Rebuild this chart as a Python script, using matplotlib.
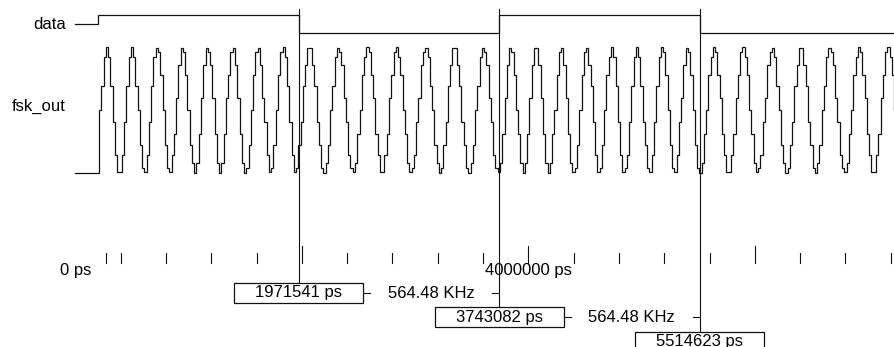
import matplotlib.pyplot as plt
from matplotlib.patches import Rectangle
import numpy as np

# all times in ps
CLK_PERIOD = 20000
CLK_OFFSET = 10000
END_TIME = 7300000

# data input: change times and levels (None = undriven / Z)
data_times = [0, 200000, 1971541, 3743082, 5514623]
data_levels = [None, 1, 0, 1, 0]

# 32-entry sine ROM, 8-bit unsigned
sine_rom = [128, 152, 176, 198, 218, 234, 245, 253, 255, 253, 245, 234, 218, 198, 176, 152,
            128, 103, 79, 57, 37, 21, 10, 2, 0, 2, 10, 21, 37, 57, 79, 103]
# phase increment (8-bit accumulator) for data = 0 / 1
freq_word = {0: 20, 1: 23}

# cursors and the frequency read between neighbouring cursors
cursor_times = [1971541, 3743082, 5514623]
cursor_freqs = ['564.48 KHz', '564.48 KHz']

# time ruler
minor_ticks = [271000, 400000, 800000, 1200000, 1600000, 2400000, 2800000, 3200000,
               3600000, 4400000, 4800000, 5200000, 5600000, 6400000, 6800000, 7200000]
major_ticks = [2000000, 4000000, 6000000]
ruler_labels = [(0, '0 ps'), (4000000, '4000000 ps')]

# screen layout (pixel rows / columns)
PS_PER_PX = 8830.0
ORIGIN_PX = 75.3
W, H = 895, 347
DATA_HI, DATA_Z, DATA_LO = 15, 24, 33
FSK_TOP, FSK_BOT = 47, 173


def px(x):
    return (x - ORIGIN_PX) * PS_PER_PX


def data_at(t):
    i = np.searchsorted(data_times, t, side='right') - 1
    return data_levels[i]


# run the phase accumulator on every clock edge once data is driven
acc = 0
fsk_t, fsk_v = [0], [0]
for t in np.arange(CLK_OFFSET, END_TIME, CLK_PERIOD):
    bit = data_at(t)
    if bit is None:
        continue
    fsk_t.append(t)
    fsk_v.append(sine_rom[acc >> 3])
    acc = (acc + freq_word[bit]) % 256
fsk_t.append(END_TIME)
fsk_v.append(fsk_v[-1])
fsk_y = FSK_BOT - np.array(fsk_v) / 255.0 * (FSK_BOT - FSK_TOP)

data_y = [DATA_Z if v is None else (DATA_HI if v else DATA_LO) for v in data_levels]
data_t = data_times + [END_TIME]
data_y = data_y + [data_y[-1]]

plt.rcParams['font.family'] = ['Liberation Sans', 'DejaVu Sans']
fig = plt.figure(figsize=(W / 100, H / 100), dpi=100)
ax = fig.add_axes([0, 0, 1, 1])
ax.set_xlim(px(0), px(W))
ax.set_ylim(H, 0)
ax.axis('off')

sig = dict(color='#111111', lw=0.9, solid_joinstyle='miter')
ax.step(data_t, data_y, where='post', **sig)
ax.step(fsk_t, fsk_y, where='post', **sig)

ax.text(px(66), DATA_Z, 'data', ha='right', va='center', fontsize=12)
ax.text(px(66), 106, 'fsk_out', ha='right', va='center', fontsize=12)

# ruler
for t in minor_ticks:
    ax.plot([t, t], [253, 263], color='#111111', lw=0.8)
for t in major_ticks:
    ax.plot([t, t], [246, 263], color='#111111', lw=0.8)
for t, s in ruler_labels:
    ax.text(t, 271, s, ha='center', va='center', fontsize=12)

# cursors with time boxes
box_w = 129 * PS_PER_PX
for i, t in enumerate(cursor_times):
    yc = 293 + 24.3 * i
    ax.plot([t, t], [9, yc - 10], color='#111111', lw=0.8, zorder=3)
    ax.add_patch(Rectangle((t - box_w / 2, yc - 10), box_w, 20, facecolor='white',
                           edgecolor='#111111', lw=0.9, zorder=4))
    ax.text(t, yc, f'{t} ps', ha='center', va='center', fontsize=12, zorder=5)

# frequency between cursor pairs
stub = 7 * PS_PER_PX
for i, f in enumerate(cursor_freqs):
    yc = 293 + 24.3 * i
    left = cursor_times[i] + box_w / 2
    right = cursor_times[i + 1]
    ax.plot([left, left + stub], [yc, yc], color='#111111', lw=0.8)
    ax.plot([right - stub, right], [yc, yc], color='#111111', lw=0.8)
    ax.text((left + right) / 2, yc, f, ha='center', va='center', fontsize=12)

fig.savefig('out.png', dpi=100)
